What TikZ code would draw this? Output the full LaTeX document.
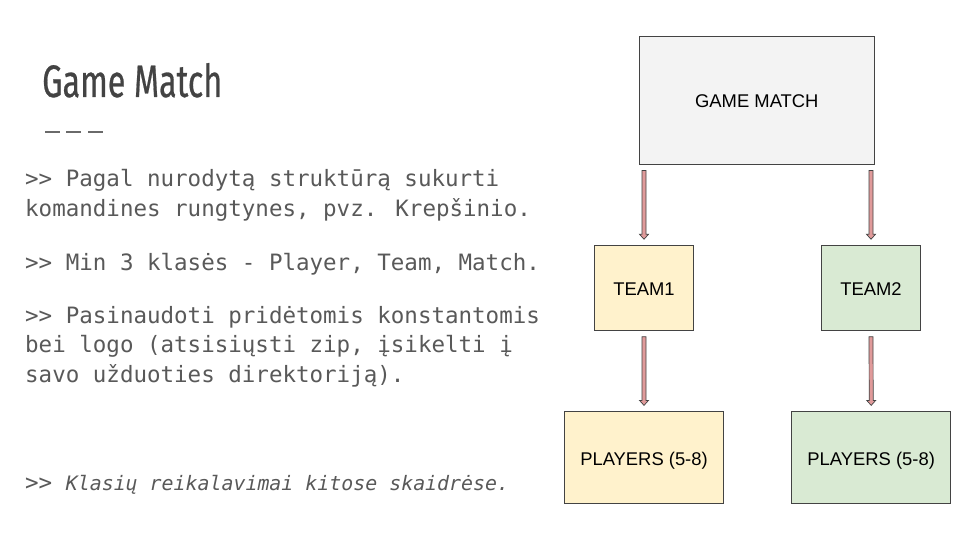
\documentclass[tikz,border=0pt]{standalone}
\usepackage{fontspec}
\usepackage{graphicx}
\setmainfont{Liberation Sans}
\newfontfamily\titlefont[FakeBold=0.6]{Fira Sans}
\newfontfamily\monofont{DejaVu Sans Mono}
\usetikzlibrary{calc}
\definecolor{titlegray}{HTML}{434343}
\definecolor{bodygray}{HTML}{595959}
\definecolor{boxline}{HTML}{434343}
\definecolor{gmfill}{HTML}{F3F3F3}
\definecolor{yfill}{HTML}{FFF2CC}
\definecolor{gfill}{HTML}{D9EAD3}
\definecolor{arrowfill}{HTML}{E09A9A}
\tikzset{
  boxnode/.style={draw=boxline, line width=0.9pt, inner sep=0pt, text height=16pt, text depth=0pt,
    font=\fontsize{18.4}{21}\selectfont, text=black},
  bodytext/.style={anchor=base west, inner sep=0pt, text=bodygray, font=\monofont\fontsize{22.5}{30}\selectfont},
  arrowshape/.style={draw=boxline, fill=arrowfill, line width=0.7pt, line join=miter},
  dashline/.style={draw=bodygray!90, line width=1.6pt}
}
\newcommand\fatarrow[2]{%
  \draw[arrowshape] ($(#1)+(-2,0)$) -- ($(#2)+(-2,-5)$) -- ($(#2)+(-4.5,-5)$) -- (#2)
    -- ($(#2)+(4.5,-5)$) -- ($(#2)+(2,-5)$) -- ($(#1)+(2,0)$) -- cycle;}
\begin{document}
\begin{tikzpicture}[x=1pt,y=-1pt]
\useasboundingbox (0,0) rectangle (960,540);
\fill[white] (0,0) rectangle (960,540);

% title
\node[anchor=base west, inner sep=0pt, text=titlegray] (title) at (42,97)
  {\resizebox{180pt}{34pt}{\titlefont Game Match}};
\draw[dashline] (45,132) -- (60,132);
\draw[dashline] (66,132) -- (81,132);
\draw[dashline] (88,132) -- (103,132);

% body text
\node[bodytext] (l1) at (25,186) {>> Pagal nurodytą struktūrą sukurti};
\node[bodytext] (l2) at (25,216) {komandines rungtynes, pvz. Krepšinio.};
\node[bodytext] (l3) at (25,270) {>> Min 3 klasės - Player, Team, Match.};
\node[bodytext] (l4) at (25,323) {>> Pasinaudoti pridėtomis konstantomis};
\node[bodytext] (l5) at (25,352) {bei logo (atsisiųsti zip, įsikelti į};
\node[bodytext] (l6) at (25,382) {savo užduoties direktoriją).};
\node[bodytext] (l7) at (25,490) {>> {\fontsize{19.9}{26}\selectfont\itshape Klasių reikalavimai kitose skaidrėse.}};

% diagram boxes
\node[boxnode, fill=gmfill, minimum width=235pt, minimum height=128pt] (gm) at (756.8,100) {GAME MATCH};
\node[boxnode, fill=yfill, minimum width=99.4pt, minimum height=85pt] (t1) at (644,287.7) {TEAM1};
\node[boxnode, fill=gfill, minimum width=99.4pt, minimum height=85pt] (t2) at (871,287.7) {TEAM2};
\node[boxnode, fill=yfill, minimum width=159.4pt, minimum height=91.7pt] (p1) at (644,457.2) {PLAYERS (5-8)};
\node[boxnode, fill=gfill, minimum width=159.4pt, minimum height=91.7pt] (p2) at (871.2,457.2) {PLAYERS (5-8)};

% connectors
\coordinate (a1s) at ($(gm.south -| t1.north)+(0,6)$);
\coordinate (a1e) at ($(t1.north)+(0,-5.5)$);
\coordinate (a2s) at ($(gm.south -| t2.north)+(0,6)$);
\coordinate (a2e) at ($(t2.north)+(0,-5.5)$);
\coordinate (a3s) at ($(t1.south)+(0,6)$);
\coordinate (a3e) at ($(p1.north)+(0,-5.5)$);
\coordinate (a4s) at ($(t2.south)+(0,6)$);
\coordinate (a4e) at ($(p2.north)+(0,-5.5)$);
\fatarrow{a1s}{a1e}
\fatarrow{a2s}{a2e}
\fatarrow{a3s}{a3e}
\fatarrow{a4s}{a4e}
\end{tikzpicture}
\end{document}
